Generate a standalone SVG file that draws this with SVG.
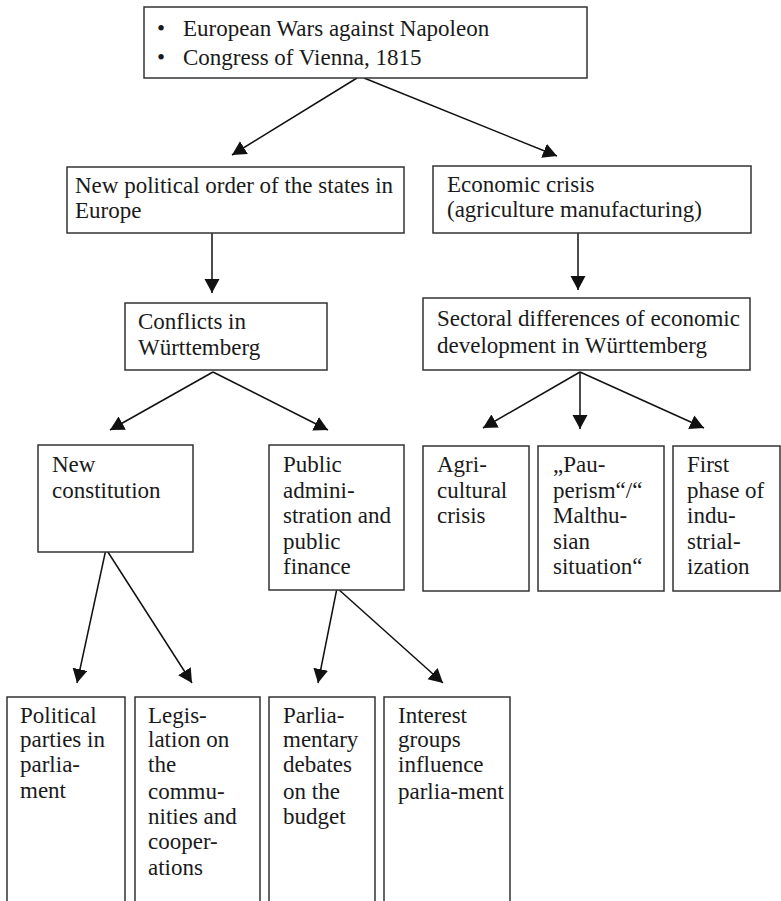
<svg xmlns="http://www.w3.org/2000/svg" width="781" height="901" viewBox="0 0 781 901">
<defs>
<style>
.box{fill:#fff;stroke:#333;stroke-width:1.5}
.t{font-family:"Liberation Serif","Times New Roman",serif;font-size:23px;fill:#1a1a1a}
.c{stroke:#111;stroke-width:1.5;fill:none;marker-end:url(#ah)}
</style>
<marker id="ah" markerUnits="userSpaceOnUse" markerWidth="16" markerHeight="16" refX="14" refY="7.5" orient="auto">
<path d="M0,0 L14,7.5 L0,15 z" fill="#111"/>
</marker>
</defs>
<rect width="781" height="901" fill="#fff"/>
<g id="connectors">
<line class="c" x1="357" y1="78" x2="232" y2="155"/>
<line class="c" x1="364" y1="78" x2="557" y2="156"/>
<line class="c" x1="212" y1="227" x2="212" y2="293"/>
<line class="c" x1="578" y1="226" x2="578" y2="290"/>
<line class="c" x1="213" y1="372" x2="110" y2="430"/>
<line class="c" x1="213" y1="372" x2="328" y2="430"/>
<line class="c" x1="580" y1="372" x2="483" y2="428"/>
<line class="c" x1="580" y1="372" x2="580" y2="429"/>
<line class="c" x1="580" y1="372" x2="704" y2="428"/>
<line class="c" x1="106" y1="549" x2="77" y2="683"/>
<line class="c" x1="106" y1="549" x2="192" y2="683"/>
<line class="c" x1="337" y1="588" x2="318" y2="683"/>
<line class="c" x1="337" y1="588" x2="443" y2="683"/>
</g>
<g id="top">
<rect class="box" x="144" y="7" width="443" height="71"/>
<text class="t" x="157" y="36">•</text>
<text class="t" x="183" y="36">European Wars against Napoleon</text>
<text class="t" x="157" y="65">•</text>
<text class="t" x="183" y="65">Congress of Vienna, 1815</text>
</g>
<g id="npo">
<rect class="box" x="67" y="167" width="337" height="66"/>
<text class="t" x="75" y="193">New political order of the states in</text>
<text class="t" x="75" y="218">Europe</text>
</g>
<g id="econ">
<rect class="box" x="433" y="166" width="318" height="67"/>
<text class="t" x="447" y="192">Economic crisis</text>
<text class="t" x="447" y="217">(agriculture manufacturing)</text>
</g>
<g id="conflicts">
<rect class="box" x="125" y="303" width="202" height="67"/>
<text class="t" x="138" y="329">Conflicts in</text>
<text class="t" x="138" y="355">Württemberg</text>
</g>
<g id="sectoral">
<rect class="box" x="423" y="298" width="327" height="72"/>
<text class="t" x="437" y="326">Sectoral differences of economic</text>
<text class="t" x="437" y="353">development in Württemberg</text>
</g>
<g id="constitution">
<rect class="box" x="38" y="445" width="155" height="107"/>
<text class="t" x="52" y="472">New</text>
<text class="t" x="52" y="498">constitution</text>
</g>
<g id="publicadmin">
<rect class="box" x="269" y="445" width="135" height="145"/>
<text class="t" x="283" y="472">Public</text>
<text class="t" x="283" y="498">admini-</text>
<text class="t" x="283" y="523">stration and</text>
<text class="t" x="283" y="549">public</text>
<text class="t" x="283" y="574">finance</text>
</g>
<g id="agri">
<rect class="box" x="423" y="446" width="106" height="145"/>
<text class="t" x="437" y="472">Agri-</text>
<text class="t" x="437" y="498">cultural</text>
<text class="t" x="437" y="523">crisis</text>
</g>
<g id="pauperism">
<rect class="box" x="538" y="446" width="126" height="145"/>
<text class="t" x="553" y="472">„Pau-</text>
<text class="t" x="553" y="498">perism“/“</text>
<text class="t" x="553" y="523">Malthu-</text>
<text class="t" x="553" y="549">sian</text>
<text class="t" x="553" y="574">situation“</text>
</g>
<g id="industrial">
<rect class="box" x="673" y="446" width="107" height="145"/>
<text class="t" x="687" y="472">First</text>
<text class="t" x="687" y="498">phase of</text>
<text class="t" x="687" y="523">indu-</text>
<text class="t" x="687" y="549">strial-</text>
<text class="t" x="687" y="574">ization</text>
</g>
<g id="parties">
<path class="box" d="M7,905 V697 H125 V905"/>
<text class="t" x="20" y="723">Political</text>
<text class="t" x="20" y="747">parties in</text>
<text class="t" x="20" y="772">parlia-</text>
<text class="t" x="20" y="798">ment</text>
</g>
<g id="legislation">
<path class="box" d="M135,905 V697 H260 V905"/>
<text class="t" x="148" y="723">Legis-</text>
<text class="t" x="148" y="747">lation on</text>
<text class="t" x="148" y="772">the</text>
<text class="t" x="148" y="799">commu-</text>
<text class="t" x="148" y="824">nities and</text>
<text class="t" x="148" y="849">cooper-</text>
<text class="t" x="148" y="875">ations</text>
</g>
<g id="budget">
<path class="box" d="M269,905 V697 H375 V905"/>
<text class="t" x="283" y="723">Parlia-</text>
<text class="t" x="283" y="747">mentary</text>
<text class="t" x="283" y="772">debates</text>
<text class="t" x="283" y="799">on the</text>
<text class="t" x="283" y="824">budget</text>
</g>
<g id="interest">
<path class="box" d="M384,905 V697 H510 V905"/>
<text class="t" x="398" y="723">Interest</text>
<text class="t" x="398" y="747">groups</text>
<text class="t" x="398" y="772">influence</text>
<text class="t" x="398" y="799">parlia-ment</text>
</g>
</svg>
